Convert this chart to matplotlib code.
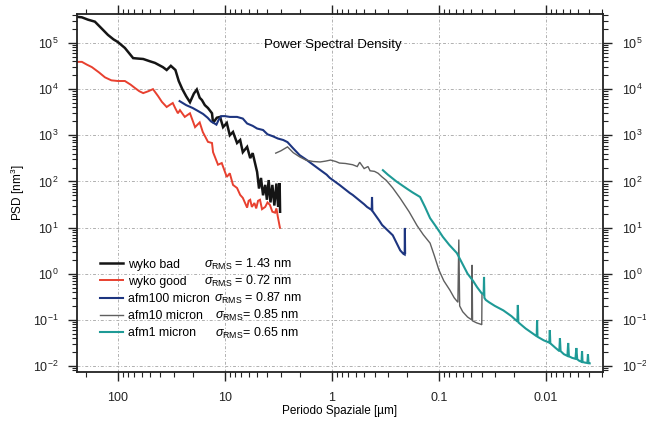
import matplotlib
matplotlib.use('Agg')
import matplotlib.pyplot as plt
from matplotlib.ticker import LogLocator, NullFormatter, FixedLocator, FixedFormatter

plt.rcParams['font.family'] = ['Liberation Sans', 'DejaVu Sans']
plt.rcParams['mathtext.fontset'] = 'custom'
plt.rcParams['mathtext.rm'] = 'Liberation Sans'
plt.rcParams['mathtext.it'] = 'Liberation Sans:italic'
plt.rcParams['mathtext.bf'] = 'Liberation Sans:bold'

# ---------------- data ----------------
wyko_bad_x = [241, 217, 190, 164, 140, 124, 110, 100, 86, 72, 65, 58, 50, 45, 38, 35, 32, 29,
              27, 25, 23, 21.2, 19.5, 18.3, 17.2, 16.4, 15.4, 14.4, 13.2, 12.9, 11.9, 11.1, 10.4,
              9.6, 9.0, 8.4, 7.7, 7.2, 6.8, 6.2, 5.8, 5.5, 5.0, 4.8, 4.6, 4.4, 4.2, 4.05, 3.9,
              3.75, 3.6, 3.45, 3.3, 3.18, 3.08, 3.05]
wyko_bad_y = [3.7e5, 3.6e5, 3.2e5, 2.9e5, 2.0e5, 1.5e5, 1.2e5, 1.05e5, 7.8e4, 4.7e4, 4.6e4, 4.5e4,
              4.0e4, 3.7e4, 3.0e4, 2.6e4, 3.2e4, 2.6e4, 1.5e4, 1.0e4, 7.0e3, 5.2e3, 8.0e3, 9.8e3,
              6.5e3, 5.8e3, 4.5e3, 3.9e3, 3.0e3, 1.85e3, 2.4e3, 2.5e3, 1.5e3, 1.85e3, 1.0e3, 1.18e3,
              6.8e2, 7.9e2, 4.3e2, 5.6e2, 3.2e2, 4.1e2, 160, 70, 119, 50, 84, 40, 107, 35, 84, 30,
              90, 28, 92, 22]

wyko_good_x = [241, 217, 195, 175, 150, 132, 115, 100, 86, 76, 69, 63, 58, 52, 47, 42, 38.8, 35,
               32.5, 30.7, 29, 27.5, 26.3, 23.7, 21.2, 19.0, 17.2, 16.1, 14.4, 13.2, 12.9, 11.6,
               10.7, 9.6, 9.0, 8.4, 7.7, 7.2, 6.8, 6.2, 6.0, 5.8, 5.6, 5.3, 5.1, 4.9, 4.7, 4.5,
               4.2, 4.0, 3.8, 3.6, 3.4, 3.3, 3.2, 3.06]
wyko_good_y = [3.9e4, 3.9e4, 3.4e4, 3.0e4, 2.3e4, 1.8e4, 1.55e4, 1.5e4, 1.5e4, 1.25e4, 1.05e4,
               9.0e3, 8.2e3, 9.0e3, 1.0e4, 7.0e3, 5.3e3, 4.1e3, 4.6e3, 5.0e3, 3.8e3, 3.0e3, 3.5e3,
               2.5e3, 3.0e3, 1.5e3, 1.9e3, 1.18e3, 7.2e2, 6.8e2, 4.3e2, 2.3e2, 2.5e2, 1.25e2,
               1.5e2, 84, 72, 51, 44, 27, 38, 40, 28, 34, 26, 38, 40, 25, 28, 35, 31, 22, 21, 26,
               17, 9.9]

afm100_x = [26.5, 23, 20, 18, 16, 14.5, 13.5, 12.5, 12, 11.4, 10.8, 10, 9.0, 7.7, 6.8, 6.2, 5.5,
            5.0, 4.4, 4.0, 3.56, 3.2, 2.85, 2.6, 2.3, 2.0, 1.75, 1.5, 1.3, 1.12, 1.05, 0.85, 0.68,
            0.64, 0.5, 0.47, 0.425, 0.422, 0.419, 0.36, 0.34, 0.27, 0.23, 0.215, 0.209, 0.208,
            0.207]
afm100_y = [5.5e3, 4.5e3, 3.9e3, 3.4e3, 2.9e3, 2.4e3, 2.0e3, 1.8e3, 1.7e3, 2.2e3, 2.6e3, 2.6e3,
            2.5e3, 2.5e3, 2.3e3, 1.8e3, 1.6e3, 1.4e3, 1.3e3, 1.05e3, 9.5e2, 8.5e2, 7.9e2, 7.1e2,
            5.2e2, 3.7e2, 3.0e2, 2.3e2, 1.8e2, 1.4e2, 1.2e2, 84, 56, 51, 32, 28, 24, 46, 23, 14,
            11.4, 6.8, 3.2, 2.7, 2.6, 9.8, 2.8]

afm10_x = [3.35, 3.0, 2.6, 2.3, 2.0, 1.75, 1.5, 1.29, 1.15, 1.03, 0.92, 0.85, 0.75, 0.64, 0.58,
           0.55, 0.5, 0.46, 0.44, 0.4, 0.37, 0.34, 0.31, 0.27, 0.23, 0.19, 0.16, 0.14, 0.121,
           0.11, 0.1, 0.09, 0.079, 0.072, 0.0665, 0.0652, 0.064, 0.06, 0.054, 0.0495, 0.049,
           0.0485, 0.0445, 0.0405, 0.0398, 0.0396]
afm10_y = [4.1e2, 4.6e2, 5.6e2, 4.2e2, 3.4e2, 2.9e2, 2.7e2, 2.64e2, 2.75e2, 2.9e2, 2.7e2, 2.5e2,
           2.45e2, 2.3e2, 2.1e2, 2.6e2, 1.9e2, 2.1e2, 1.7e2, 1.65e2, 1.5e2, 1.25e2, 1.05e2, 72,
           43, 22, 11, 7, 4.6, 2.4, 1.2, 0.7, 0.44, 0.3, 0.24, 5.5, 0.2, 0.15, 0.115, 0.1, 1.55,
           0.095, 0.086, 0.08, 0.078, 0.35]

afm1_x = [0.334, 0.3, 0.25, 0.2, 0.177, 0.15, 0.135, 0.121, 0.105, 0.092, 0.08, 0.068, 0.06,
          0.054, 0.048, 0.044, 0.04, 0.0382, 0.0379, 0.0376, 0.0365, 0.034, 0.03, 0.025, 0.021,
          0.0185, 0.0183, 0.0181, 0.0155, 0.0122, 0.0121, 0.012, 0.0105, 0.0093, 0.0092, 0.0091,
          0.0082, 0.0075, 0.0074, 0.0073, 0.0068, 0.0063, 0.0062, 0.0061, 0.0057, 0.0053, 0.0052,
          0.0051, 0.0049, 0.00465, 0.0046, 0.00455, 0.0043, 0.0041, 0.00405, 0.004, 0.0039]
afm1_y = [175, 140, 100, 70, 58, 46, 28, 16, 10, 6.3, 4.2, 2.8, 1.6, 1.0, 0.7, 0.51, 0.38, 0.36,
          0.85, 0.3, 0.27, 0.24, 0.2, 0.16, 0.12, 0.092, 0.21, 0.088, 0.065, 0.044, 0.099, 0.043,
          0.036, 0.032, 0.06, 0.031, 0.025, 0.021, 0.04, 0.021, 0.018, 0.0165, 0.0315, 0.0162,
          0.015, 0.0143, 0.0245, 0.014, 0.013, 0.0123, 0.021, 0.0122, 0.0118, 0.0116, 0.018,
          0.0115, 0.0114]

labels = ['wyko bad', 'wyko good', 'afm100 micron', 'afm10 micron', 'afm1 micron']
sigmas = [r'$\sigma_{\mathrm{RMS}}$ = 1.43 nm', r'$\sigma_{\mathrm{RMS}}$ = 0.72 nm',
          r'$\sigma_{\mathrm{RMS}}$ = 0.87 nm', r'$\sigma_{\mathrm{RMS}}$= 0.85 nm',
          r'$\sigma_{\mathrm{RMS}}$= 0.65 nm']
x_ticks = [100, 10, 1, 0.1, 0.01]
x_ticklabels = ['100', '10', '1', '0.1', '0.01']
y_ticks = [1e-2, 1e-1, 1e0, 1e1, 1e2, 1e3, 1e4, 1e5]

colors = ['#151515', '#e8402f', '#1d3580', '#5f5f5f', '#1e9a96']
widths = [1.8, 1.4, 1.5, 1.0, 1.5]

# ---------------- figure ----------------
fig = plt.figure(figsize=(6.46, 4.21), dpi=100)
ax = fig.add_axes([77/646, 49/421, 526/646, 358/421])

series = [(wyko_bad_x, wyko_bad_y), (wyko_good_x, wyko_good_y), (afm100_x, afm100_y),
          (afm10_x, afm10_y), (afm1_x, afm1_y)]
handles = []
for (xs, ys), c, w, lab in zip(series, colors, widths, labels):
    h, = ax.plot(xs, ys, color=c, lw=w, label=lab, solid_joinstyle='miter')
    handles.append(h)

ax.set_xscale('log')
ax.set_yscale('log')
ax.set_xlim(241, 0.00293)
ax.set_ylim(7.4e-3, 4.25e5)

ax.xaxis.set_major_locator(FixedLocator(x_ticks))
ax.xaxis.set_major_formatter(FixedFormatter(x_ticklabels))
ax.xaxis.set_minor_locator(LogLocator(base=10, subs=range(2, 10), numticks=20))
ax.xaxis.set_minor_formatter(NullFormatter())
ax.yaxis.set_major_locator(FixedLocator(y_ticks))
ax.yaxis.set_minor_locator(LogLocator(base=10, subs=range(2, 10), numticks=20))
ax.yaxis.set_minor_formatter(NullFormatter())

ax.tick_params(which='both', direction='out', top=True, right=True, labelright=True,
               labeltop=False, colors='#222222', labelsize=9)
ax.tick_params(which='major', length=6.5, width=1.0)
ax.tick_params(which='minor', length=3.5, width=0.8)
ax.tick_params(axis='y', which='major', pad=7)
ax.tick_params(axis='x', which='major', pad=8)

for s in ax.spines.values():
    s.set_linewidth(1.3)
    s.set_color('#222222')

ax.grid(True, which='major', linestyle=(0, (3, 2, 1, 2)), color='#b0b0b0', lw=0.7)

ax.set_xlabel('Periodo Spaziale [µm]', fontsize=8.5, labelpad=0.7)
ax.set_ylabel('PSD [nm$^3$]', fontsize=8.5, labelpad=4)
ax.text(0.487, 0.913, 'Power Spectral Density', transform=ax.transAxes, ha='center',
        va='center', fontsize=9.5)

leg = ax.legend(handles=handles, loc='upper left', bbox_to_anchor=(0.044, 0.317),
                frameon=False, fontsize=8.8, handlelength=1.85, handletextpad=0.4,
                labelspacing=0.42, borderpad=0, borderaxespad=0)

fig.canvas.draw()
inv = ax.transAxes.inverted()
sig_x = [0.241, 0.241, 0.26, 0.262, 0.262]
for t, s, sx in zip(leg.get_texts(), sigmas, sig_x):
    bb = t.get_window_extent()
    yc = inv.transform((0, (bb.y0 + bb.y1) / 2))[1]
    ax.text(sx, yc, s, transform=ax.transAxes, ha='left', va='center', fontsize=9)

fig.savefig('out.png', dpi=100)
